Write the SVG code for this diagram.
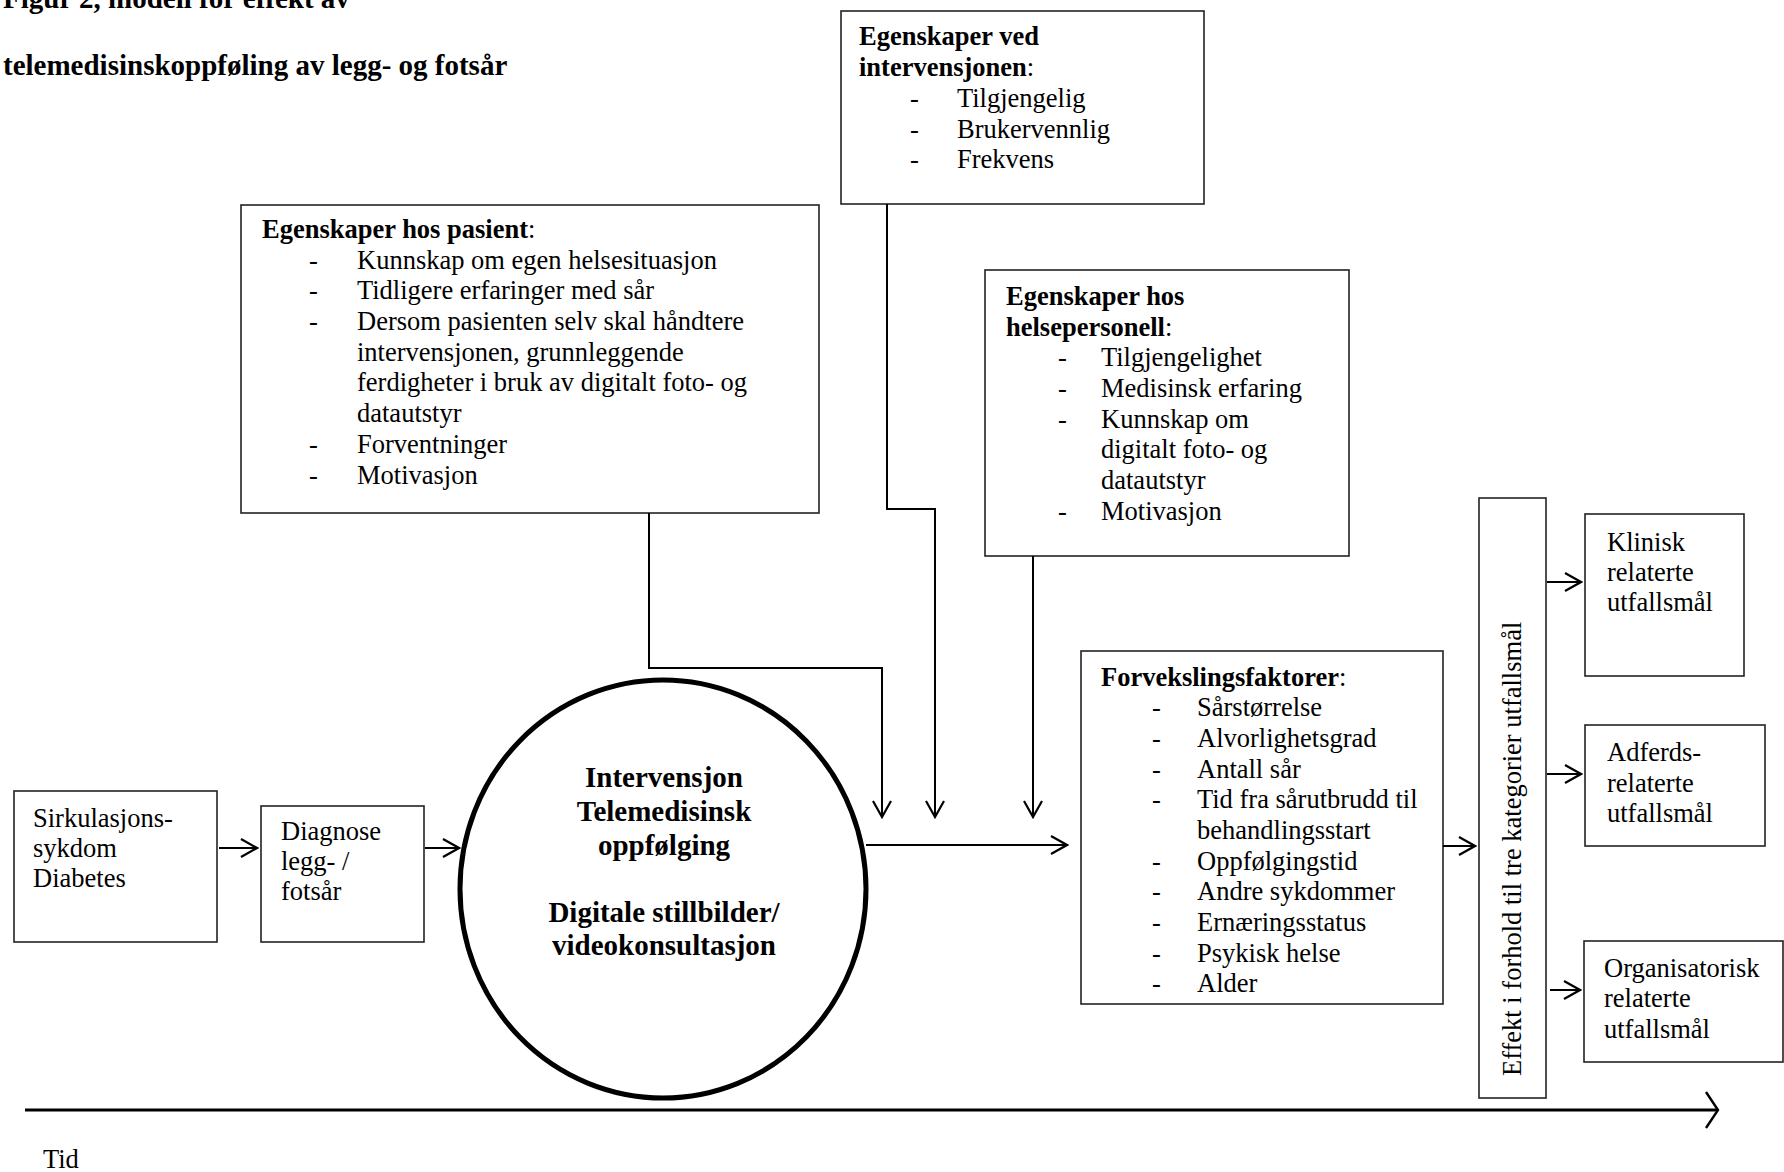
<svg xmlns="http://www.w3.org/2000/svg" width="1784" height="1172" viewBox="0 0 1784 1172">
<style>
text{font-family:"Liberation Serif","Times New Roman",serif;fill:#000}
.t{font-size:26.5px}
.b{font-weight:bold}
.title{font-size:29px;font-weight:bold}
.ct{font-size:29px;font-weight:bold;text-anchor:middle}
.box{fill:#fff;stroke:#222;stroke-width:1.6}
.con{fill:none;stroke:#000;stroke-width:2}
</style>
<defs>
<marker id="ah" markerUnits="userSpaceOnUse" viewBox="0 0 20 20" refX="18" refY="10" markerWidth="20" markerHeight="20" orient="auto">
<path d="M2,1 L18,10 L2,19" fill="none" stroke="#000" stroke-width="2.2"/>
</marker>
<marker id="ahBig" markerUnits="userSpaceOnUse" viewBox="0 0 20 40" refX="18" refY="20" markerWidth="20" markerHeight="40" orient="auto">
<path d="M6,2 L18,20 L6,38" fill="none" stroke="#000" stroke-width="2.4"/>
</marker>
</defs>
<rect width="1784" height="1172" fill="#fff"/>

<g id="title">
<text class="title" x="3" y="8">Figur 2, modell for effekt av</text>
<text class="title" x="3" y="75">telemedisinskoppføling av legg- og fotsår</text>
</g>

<g id="node-intervensjonen">
<rect class="box" x="841" y="11" width="363" height="193"/>
<text class="t" x="859" y="45"><tspan class="b">Egenskaper ved</tspan></text>
<text class="t" x="859" y="76"><tspan class="b">intervensjonen</tspan>:</text>
<text class="t" x="910" y="107">-</text><text class="t" x="957" y="107">Tilgjengelig</text>
<text class="t" x="910" y="138">-</text><text class="t" x="957" y="138">Brukervennlig</text>
<text class="t" x="910" y="168">-</text><text class="t" x="957" y="168">Frekvens</text>
</g>

<g id="node-pasient">
<rect class="box" x="241" y="205" width="578" height="308"/>
<text class="t" x="262" y="238"><tspan class="b">Egenskaper hos pasient</tspan>:</text>
<text class="t" x="309" y="269">-</text><text class="t" x="357" y="269">Kunnskap om egen helsesituasjon</text>
<text class="t" x="309" y="299">-</text><text class="t" x="357" y="299">Tidligere erfaringer med sår</text>
<text class="t" x="309" y="330">-</text><text class="t" x="357" y="330">Dersom pasienten selv skal håndtere</text>
<text class="t" x="357" y="361">intervensjonen, grunnleggende</text>
<text class="t" x="357" y="391">ferdigheter i bruk av digitalt foto- og</text>
<text class="t" x="357" y="422">datautstyr</text>
<text class="t" x="309" y="453">-</text><text class="t" x="357" y="453">Forventninger</text>
<text class="t" x="309" y="484">-</text><text class="t" x="357" y="484">Motivasjon</text>
</g>

<g id="node-helsepersonell">
<rect class="box" x="985" y="270" width="364" height="286"/>
<text class="t" x="1006" y="305"><tspan class="b">Egenskaper hos</tspan></text>
<text class="t" x="1006" y="336"><tspan class="b">helsepersonell</tspan>:</text>
<text class="t" x="1058" y="366">-</text><text class="t" x="1101" y="366">Tilgjengelighet</text>
<text class="t" x="1058" y="397">-</text><text class="t" x="1101" y="397">Medisinsk erfaring</text>
<text class="t" x="1058" y="428">-</text><text class="t" x="1101" y="428">Kunnskap om</text>
<text class="t" x="1101" y="458">digitalt foto- og</text>
<text class="t" x="1101" y="489">datautstyr</text>
<text class="t" x="1058" y="520">-</text><text class="t" x="1101" y="520">Motivasjon</text>
</g>

<g id="node-forveksling">
<rect class="box" x="1081" y="651" width="362" height="353"/>
<text class="t" x="1101" y="686"><tspan class="b">Forvekslingsfaktorer</tspan>:</text>
<text class="t" x="1152" y="716">-</text><text class="t" x="1197" y="716">Sårstørrelse</text>
<text class="t" x="1152" y="747">-</text><text class="t" x="1197" y="747">Alvorlighetsgrad</text>
<text class="t" x="1152" y="778">-</text><text class="t" x="1197" y="778">Antall sår</text>
<text class="t" x="1152" y="808">-</text><text class="t" x="1197" y="808">Tid fra sårutbrudd til</text>
<text class="t" x="1197" y="839">behandlingsstart</text>
<text class="t" x="1152" y="870">-</text><text class="t" x="1197" y="870">Oppfølgingstid</text>
<text class="t" x="1152" y="900">-</text><text class="t" x="1197" y="900">Andre sykdommer</text>
<text class="t" x="1152" y="931">-</text><text class="t" x="1197" y="931">Ernæringsstatus</text>
<text class="t" x="1152" y="962">-</text><text class="t" x="1197" y="962">Psykisk helse</text>
<text class="t" x="1152" y="992">-</text><text class="t" x="1197" y="992">Alder</text>
</g>

<g id="node-sirkulasjon">
<rect class="box" x="14" y="791" width="203" height="151"/>
<text class="t" x="33" y="827">Sirkulasjons-</text>
<text class="t" x="33" y="857">sykdom</text>
<text class="t" x="33" y="887">Diabetes</text>
</g>

<g id="node-diagnose">
<rect class="box" x="261" y="806" width="163" height="136"/>
<text class="t" x="281" y="840">Diagnose</text>
<text class="t" x="281" y="870">legg- /</text>
<text class="t" x="281" y="900">fotsår</text>
</g>

<g id="node-intervensjon">
<ellipse cx="663" cy="889" rx="203" ry="209" fill="#fff" stroke="#000" stroke-width="5"/>
<text class="ct" x="664" y="787">Intervensjon</text>
<text class="ct" x="664" y="821">Telemedisinsk</text>
<text class="ct" x="664" y="855">oppfølging</text>
<text class="ct" x="664" y="922">Digitale stillbilder/</text>
<text class="ct" x="664" y="955">videokonsultasjon</text>
</g>

<g id="node-effekt">
<rect class="box" x="1479" y="498" width="67" height="600"/>
<text class="t" transform="translate(1521,1076) rotate(-90)" x="0" y="0">Effekt i forhold til tre kategorier utfallsmål</text>
</g>

<g id="node-klinisk">
<rect class="box" x="1585" y="514" width="159" height="162"/>
<text class="t" x="1607" y="551">Klinisk</text>
<text class="t" x="1607" y="581">relaterte</text>
<text class="t" x="1607" y="611">utfallsmål</text>
</g>

<g id="node-adferd">
<rect class="box" x="1585" y="725" width="180" height="121"/>
<text class="t" x="1607" y="761">Adferds-</text>
<text class="t" x="1607" y="792">relaterte</text>
<text class="t" x="1607" y="822">utfallsmål</text>
</g>

<g id="node-organisatorisk">
<rect class="box" x="1584" y="941" width="199" height="121"/>
<text class="t" x="1604" y="977">Organisatorisk</text>
<text class="t" x="1604" y="1007">relaterte</text>
<text class="t" x="1604" y="1038">utfallsmål</text>
</g>

<g id="tid">
<text class="t" x="43" y="1168">Tid</text>
</g>

<g id="connectors">
<path class="con" d="M219,848 H257" marker-end="url(#ah)"/>
<path class="con" d="M425,848 H459" marker-end="url(#ah)"/>
<path class="con" d="M649,513 V668 H882 V817" marker-end="url(#ah)"/>
<path class="con" d="M887,204 V509 H935 V817" marker-end="url(#ah)"/>
<path class="con" d="M1033,556 V817" marker-end="url(#ah)"/>
<path class="con" d="M866,845 H1067" marker-end="url(#ah)"/>
<path class="con" d="M1443,846 H1475" marker-end="url(#ah)"/>
<path class="con" d="M1547,582 H1581" marker-end="url(#ah)"/>
<path class="con" d="M1547,774 H1581" marker-end="url(#ah)"/>
<path class="con" d="M1550,990 H1580" marker-end="url(#ah)"/>
<path d="M25,1110 H1718" fill="none" stroke="#000" stroke-width="3" marker-end="url(#ahBig)"/>
</g>
</svg>
